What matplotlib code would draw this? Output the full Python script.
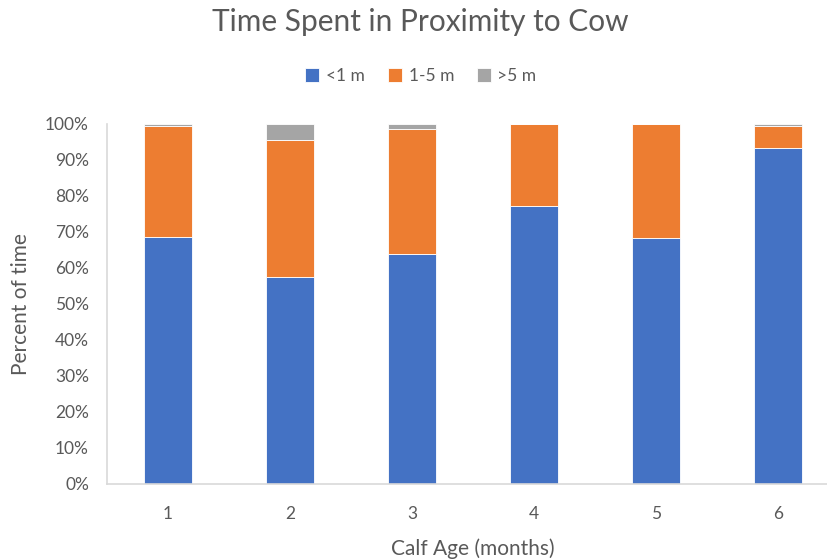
import matplotlib
matplotlib.use("Agg")
import matplotlib.pyplot as plt
import numpy as np
from matplotlib.ticker import PercentFormatter

plt.rcParams['font.family'] = ['Lato', 'DejaVu Sans']

ages = ["1", "2", "3", "4", "5", "6"]
near = [68.4, 57.3, 63.9, 77.2, 68.3, 93.1]      # <1 m
mid = [31.0, 38.2, 34.5, 22.8, 31.7, 6.1]        # 1-5 m
far = [0.6, 4.5, 1.6, 0.0, 0.0, 0.8]             # >5 m
series_names = ["<1 m", "1-5 m", ">5 m"]
colors = ["#4472C4", "#ED7D31", "#A5A5A5"]
text_color = "#595959"

W, H = 828, 559
fig = plt.figure(figsize=(W / 100, H / 100), dpi=100)
ax = fig.add_axes([107 / W, (H - 484) / H, 732 / W, 360.5 / H])

x = np.arange(len(ages))
bottom = np.zeros(len(ages))
handles = []
for vals, name, c in zip([near, mid, far], series_names, colors):
    b = ax.bar(x, vals, width=0.4, bottom=bottom, color=c, label=name,
               edgecolor="white", linewidth=0.6)
    handles.append(b)
    bottom += np.array(vals)

ax.set_xlim(-0.5, len(ages) - 0.5)
ax.set_ylim(0, 100)
ax.set_yticks(np.arange(0, 101, 10))
ax.yaxis.set_major_formatter(PercentFormatter(decimals=0))
ax.set_xticks(x)
ax.set_xticklabels(ages)

for s in ["top", "right"]:
    ax.spines[s].set_visible(False)
for s in ["left", "bottom"]:
    ax.spines[s].set_color("#D9D9D9")
    ax.spines[s].set_linewidth(1.2)
ax.tick_params(axis="both", length=0, labelsize=12.5, colors=text_color)
ax.tick_params(axis="y", pad=13)
ax.tick_params(axis="x", pad=16)

ax.set_xlabel("Calf Age (months)", fontsize=15, color=text_color, labelpad=12)
ax.set_ylabel("Percent of time", fontsize=15, color=text_color, labelpad=10)

fig.text(420 / W, 1 - 22 / H, "Time Spent in Proximity to Cow", ha="center",
         va="center", fontsize=21.5, color=text_color)

fig.legend(handles=handles, labels=series_names, loc="center",
           bbox_to_anchor=(421 / W, 1 - 76 / H), ncol=3, frameon=False,
           fontsize=12.5, labelcolor=text_color, handlelength=0.8,
           handleheight=0.8, handletextpad=0.4, columnspacing=1.3)

fig.savefig("out.png", dpi=100)
